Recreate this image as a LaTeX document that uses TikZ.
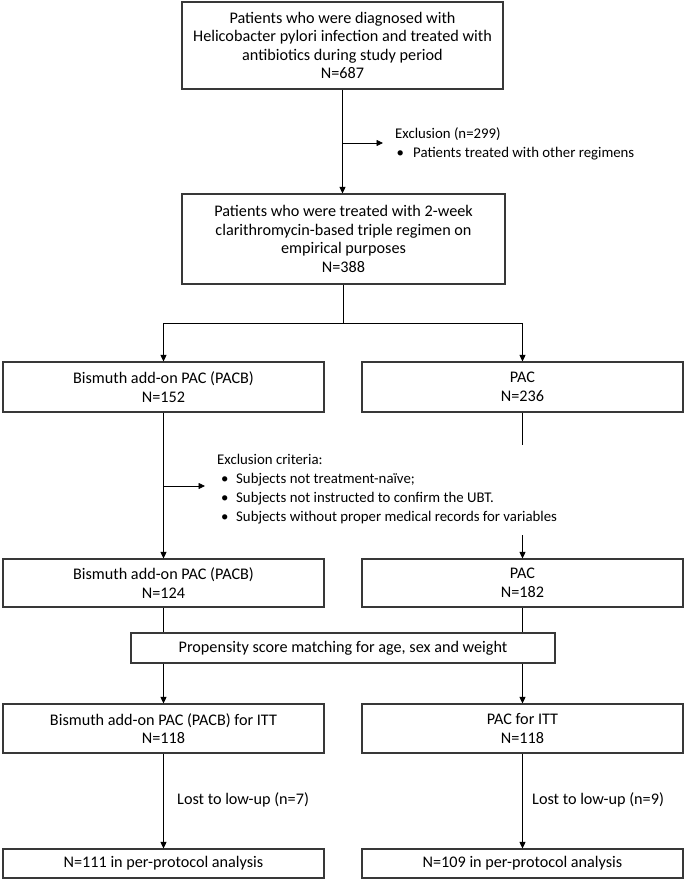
\documentclass[tikz,border=0pt]{standalone}
\usepackage{fontspec}
\setmainfont{Carlito}
\usetikzlibrary{arrows.meta}
\begin{document}
\begin{tikzpicture}[x=1pt,y=1pt,
  box/.style={draw=black!78, line width=1.1pt, align=center, inner sep=0pt, fill=white,
    font=\fontsize{16.2}{18.6}\selectfont},
  txt/.style={align=left, inner sep=0pt, font=\fontsize{14.8}{19}\selectfont},
  lbl/.style={inner sep=0pt, font=\fontsize{16.2}{19}\selectfont},
  conn/.style={line width=0.8pt, draw=black},
  arr/.style={conn, -{Triangle[length=6.5pt,width=6pt]}}]
\useasboundingbox[fill=white] (0,0) rectangle (685,-880);

% boxes
\node[box, minimum width=321pt, minimum height=87pt] (top) at (342.5,-45.5)
  {Patients who were diagnosed with\\Helicobacter pylori infection and treated with\\antibiotics during study period\\N=687};
\node[box, minimum width=323pt, minimum height=90pt] (b2) at (343.5,-239)
  {Patients who were treated with 2-week\\clarithromycin-based triple regimen on\\empirical purposes\\N=388};
\node[box, minimum width=321pt, minimum height=50pt] (b3l) at (163.5,-387)
  {Bismuth add-on PAC (PACB)\\N=152};
\node[box, minimum width=321pt, minimum height=50pt] (b3r) at (522.5,-387)
  {PAC\\N=236};
\node[box, minimum width=321pt, minimum height=48pt] (b4l) at (163.5,-583)
  {Bismuth add-on PAC (PACB)\\N=124};
\node[box, minimum width=321pt, minimum height=48pt] (b4r) at (522.5,-583)
  {PAC\\N=182};
\node[box, minimum width=424pt, minimum height=30pt] (prop) at (343,-648)
  {Propensity score matching for age, sex and weight};
\node[box, minimum width=321pt, minimum height=49pt] (b5l) at (163.5,-728.5)
  {Bismuth add-on PAC (PACB) for ITT\\N=118};
\node[box, minimum width=321pt, minimum height=49pt] (b5r) at (522.5,-728.5)
  {PAC for ITT\\N=118};
\node[box, minimum width=321pt, minimum height=29pt] (b6l) at (163.5,-863.5)
  {N=111 in per-protocol analysis};
\node[box, minimum width=321pt, minimum height=29pt] (b6r) at (522.5,-863.5)
  {N=109 in per-protocol analysis};

% exclusion texts
\node[txt, anchor=north west] (ex1t) at (395,-127.5)
  {Exclusion (n=299)\\\makebox[18pt][l]{\hspace{1.5pt}•}Patients treated with other regimens};
\node[txt, anchor=north west] (ex2t) at (217,-454)
  {Exclusion criteria:\\
   \makebox[19pt][l]{\hspace{4pt}•}Subjects not treatment-naïve;\\
   \makebox[19pt][l]{\hspace{4pt}•}Subjects not instructed to confirm the UBT.\\
   \makebox[19pt][l]{\hspace{4pt}•}Subjects without proper medical records for variables};

% connectors
\draw[arr] (top.south) -- (top.south |- b2.north);
\coordinate (ex1) at (342.5,-143);
\draw[arr] (ex1) -- ([xshift=-12pt]ex1 -| ex1t.west);

\coordinate (split) at (343.5,-323);
\draw[conn] (b2.south) -- (split);
\draw[arr] (split) -| (b3l.north);
\draw[arr] (split) -| (b3r.north);

\draw[arr] (b3l.south) -- (b4l.north);
\coordinate (ex2) at (163.5,-486);
\draw[arr] (ex2) -- ([xshift=-12pt]ex2 -| ex2t.west);

\coordinate (gapA) at (522.5,-445);
\coordinate (gapB) at (522.5,-535);
\draw[conn] (b3r.south) -- (gapA);
\draw[arr] (gapB) -- (b4r.north);

\draw[conn] (b4l.south) -- (b4l.south |- prop.north);
\draw[conn] (b4r.south) -- (b4r.south |- prop.north);
\draw[arr] (b5l.north |- prop.south) -- (b5l.north);
\draw[arr] (b5r.north |- prop.south) -- (b5r.north);

\draw[arr] (b5l.south) -- (b6l.north);
\draw[arr] (b5r.south) -- (b6r.north);
\node[lbl, anchor=west] (lost1) at (177,-800) {Lost to low-up (n=7)};
\node[lbl, anchor=west] (lost2) at (532,-800) {Lost to low-up (n=9)};
\end{tikzpicture}
\end{document}
